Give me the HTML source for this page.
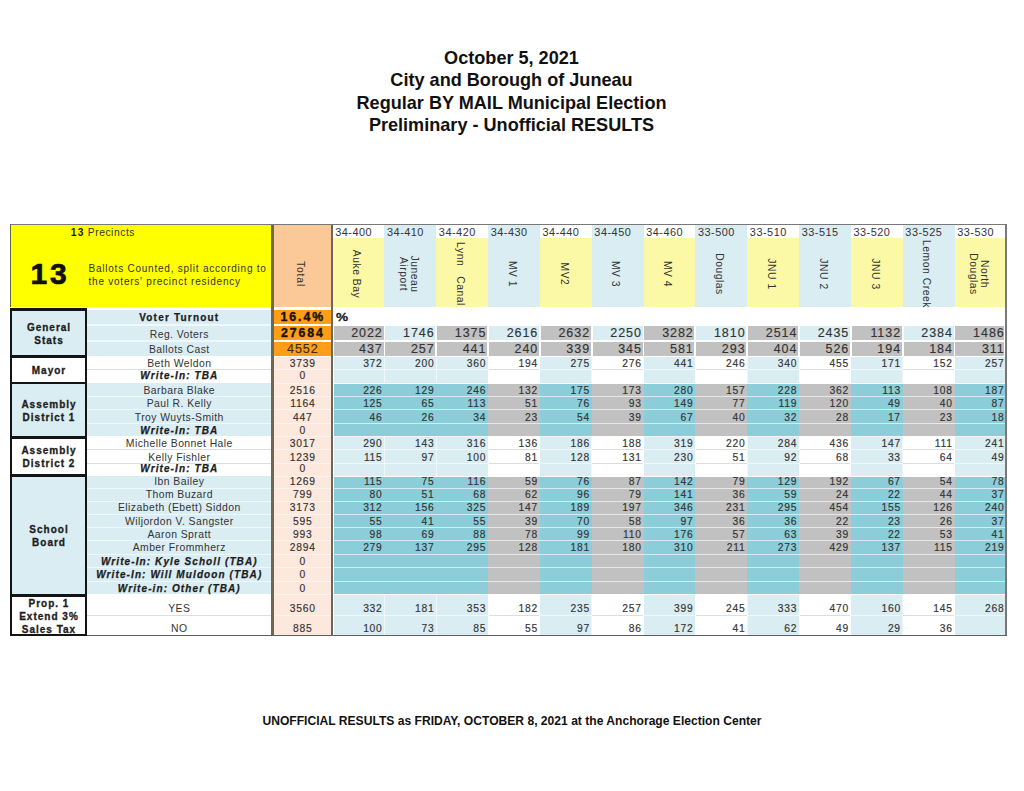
<!DOCTYPE html>
<html><head><meta charset="utf-8"><style>
html,body{margin:0;padding:0;background:#fff;width:1024px;height:791px;overflow:hidden;}
body{position:relative;font-family:"Liberation Sans",sans-serif;color:#333333;}
div{position:absolute;box-sizing:border-box;}
.title{left:0;width:1023px;text-align:center;font-weight:bold;font-size:18.1px;line-height:22.5px;color:#111;}
.foot{left:0;width:1024px;text-align:center;font-weight:bold;font-size:12.1px;color:#111;}
.cat{display:flex;align-items:center;justify-content:center;text-align:center;font-weight:bold;font-size:10px;letter-spacing:1.0px;line-height:13px;color:#1c1c1c;padding-left:1px;padding-top:1.6px;-webkit-text-stroke:0.3px #1c1c1c;}
.t{display:flex;align-items:center;white-space:nowrap;font-size:10px;letter-spacing:0.6px;}
.nm{justify-content:center;font-size:10.4px;letter-spacing:0.44px;}
.nm.b{font-size:10px;font-weight:bold;color:#1c1c1c;letter-spacing:1.2px;-webkit-text-stroke:0.25px #1c1c1c;}
.nm.bi{font-size:10px;font-weight:bold;font-style:italic;color:#1c1c1c;letter-spacing:1.1px;-webkit-text-stroke:0.25px #1c1c1c;}
.tot{justify-content:center;}
.tot{font-size:10.3px;letter-spacing:0.75px;-webkit-text-stroke:0.15px #333;}
.tot.tb{font-weight:bold;font-size:12.3px;color:#1a1200;letter-spacing:1.9px;-webkit-text-stroke:0.4px #1a1200;}
.tot.t2{font-size:12.5px;letter-spacing:0.95px;color:#3a2a10;}
.val{justify-content:flex-end;}
.val{font-size:10.3px;letter-spacing:0.75px;-webkit-text-stroke:0.15px #333;}
.val.big{font-size:12.5px;letter-spacing:0.95px;}
.pct{font-weight:bold;font-size:11.2px;color:#1c1c1c;letter-spacing:0;-webkit-text-stroke:0.3px #1c1c1c;transform:scaleX(1.22);transform-origin:0 50%;}
.code{font-size:10.9px;letter-spacing:0.5px;}
.rot{width:80px;height:14px;text-align:center;transform:rotate(90deg);font-size:10.3px;line-height:11px;letter-spacing:0.55px;white-space:nowrap;display:flex;align-items:center;justify-content:center;}
</style></head><body>
<div class="title" style="top:46.8px;">October 5, 2021<br>City and Borough of Juneau<br>Regular BY MAIL Municipal Election<br>Preliminary - Unofficial RESULTS</div>
<div style="left:10.00px;top:224.30px;width:997.00px;height:1.00px;background:#787878;"></div><div style="left:10.00px;top:225.30px;width:261.00px;height:82.20px;background:#ffff00;"></div><div style="left:10.00px;top:224.30px;width:1.00px;height:83.20px;background:#66663a;"></div><div style="left:274.00px;top:225.30px;width:57.00px;height:82.20px;background:#fbc897;"></div><div style="left:333.00px;top:225.30px;width:51.43px;height:13.00px;background:#ffffff;"></div><div style="left:333.00px;top:238.30px;width:51.43px;height:69.20px;background:#fcf9a6;"></div><div style="left:384.43px;top:225.30px;width:51.83px;height:13.00px;background:#daedf3;"></div><div style="left:384.43px;top:238.30px;width:51.83px;height:69.20px;background:#daedf3;"></div><div style="left:436.26px;top:225.30px;width:51.83px;height:13.00px;background:#ffffff;"></div><div style="left:436.26px;top:238.30px;width:51.83px;height:69.20px;background:#fcf9a6;"></div><div style="left:488.09px;top:225.30px;width:51.83px;height:13.00px;background:#daedf3;"></div><div style="left:488.09px;top:238.30px;width:51.83px;height:69.20px;background:#daedf3;"></div><div style="left:539.92px;top:225.30px;width:51.83px;height:13.00px;background:#ffffff;"></div><div style="left:539.92px;top:238.30px;width:51.83px;height:69.20px;background:#fcf9a6;"></div><div style="left:591.75px;top:225.30px;width:51.83px;height:13.00px;background:#daedf3;"></div><div style="left:591.75px;top:238.30px;width:51.83px;height:69.20px;background:#daedf3;"></div><div style="left:643.58px;top:225.30px;width:51.83px;height:13.00px;background:#ffffff;"></div><div style="left:643.58px;top:238.30px;width:51.83px;height:69.20px;background:#fcf9a6;"></div><div style="left:695.41px;top:225.30px;width:51.83px;height:13.00px;background:#daedf3;"></div><div style="left:695.41px;top:238.30px;width:51.83px;height:69.20px;background:#daedf3;"></div><div style="left:747.24px;top:225.30px;width:51.83px;height:13.00px;background:#ffffff;"></div><div style="left:747.24px;top:238.30px;width:51.83px;height:69.20px;background:#fcf9a6;"></div><div style="left:799.07px;top:225.30px;width:51.83px;height:13.00px;background:#daedf3;"></div><div style="left:799.07px;top:238.30px;width:51.83px;height:69.20px;background:#daedf3;"></div><div style="left:850.90px;top:225.30px;width:51.83px;height:13.00px;background:#ffffff;"></div><div style="left:850.90px;top:238.30px;width:51.83px;height:69.20px;background:#fcf9a6;"></div><div style="left:902.73px;top:225.30px;width:51.83px;height:13.00px;background:#daedf3;"></div><div style="left:902.73px;top:238.30px;width:51.83px;height:69.20px;background:#daedf3;"></div><div style="left:954.56px;top:225.30px;width:50.64px;height:13.00px;background:#ffffff;"></div><div style="left:954.56px;top:238.30px;width:50.64px;height:69.20px;background:#fcf9a6;"></div><div style="left:87.00px;top:310.00px;width:184.00px;height:14.00px;background:#daedf3;"></div><div style="left:274.00px;top:310.00px;width:57.00px;height:14.00px;background:#fe9d18;"></div><div style="left:87.00px;top:324.00px;width:184.00px;height:16.00px;background:#daedf3;"></div><div style="left:87.00px;top:324.00px;width:184.00px;height:2.00px;background:rgba(255,255,255,0.62);"></div><div style="left:274.00px;top:326.00px;width:57.00px;height:14.00px;background:#fe9d18;"></div><div style="left:333.90px;top:326.00px;width:49.63px;height:14.00px;background:#c1c1c1;"></div><div style="left:385.33px;top:326.00px;width:50.03px;height:14.00px;background:#daedf3;"></div><div style="left:437.16px;top:326.00px;width:50.03px;height:14.00px;background:#c1c1c1;"></div><div style="left:488.99px;top:326.00px;width:50.03px;height:14.00px;background:#daedf3;"></div><div style="left:540.82px;top:326.00px;width:50.03px;height:14.00px;background:#c1c1c1;"></div><div style="left:592.65px;top:326.00px;width:50.03px;height:14.00px;background:#daedf3;"></div><div style="left:644.48px;top:326.00px;width:50.03px;height:14.00px;background:#c1c1c1;"></div><div style="left:696.31px;top:326.00px;width:50.03px;height:14.00px;background:#daedf3;"></div><div style="left:748.14px;top:326.00px;width:50.03px;height:14.00px;background:#c1c1c1;"></div><div style="left:799.97px;top:326.00px;width:50.03px;height:14.00px;background:#daedf3;"></div><div style="left:851.80px;top:326.00px;width:50.03px;height:14.00px;background:#c1c1c1;"></div><div style="left:903.63px;top:326.00px;width:50.03px;height:14.00px;background:#daedf3;"></div><div style="left:955.46px;top:326.00px;width:48.94px;height:14.00px;background:#c1c1c1;"></div><div style="left:87.00px;top:340.00px;width:184.00px;height:16.00px;background:#daedf3;"></div><div style="left:87.00px;top:340.00px;width:184.00px;height:2.00px;background:rgba(255,255,255,0.62);"></div><div style="left:274.00px;top:342.00px;width:57.00px;height:14.00px;background:#fe9d18;"></div><div style="left:333.90px;top:342.00px;width:49.63px;height:14.00px;background:#c1c1c1;"></div><div style="left:385.33px;top:342.00px;width:50.03px;height:14.00px;background:#c1c1c1;"></div><div style="left:437.16px;top:342.00px;width:50.03px;height:14.00px;background:#c1c1c1;"></div><div style="left:488.99px;top:342.00px;width:50.03px;height:14.00px;background:#c1c1c1;"></div><div style="left:540.82px;top:342.00px;width:50.03px;height:14.00px;background:#c1c1c1;"></div><div style="left:592.65px;top:342.00px;width:50.03px;height:14.00px;background:#c1c1c1;"></div><div style="left:644.48px;top:342.00px;width:50.03px;height:14.00px;background:#c1c1c1;"></div><div style="left:696.31px;top:342.00px;width:50.03px;height:14.00px;background:#c1c1c1;"></div><div style="left:748.14px;top:342.00px;width:50.03px;height:14.00px;background:#c1c1c1;"></div><div style="left:799.97px;top:342.00px;width:50.03px;height:14.00px;background:#c1c1c1;"></div><div style="left:851.80px;top:342.00px;width:50.03px;height:14.00px;background:#c1c1c1;"></div><div style="left:903.63px;top:342.00px;width:50.03px;height:14.00px;background:#c1c1c1;"></div><div style="left:955.46px;top:342.00px;width:48.94px;height:14.00px;background:#c1c1c1;"></div><div style="left:274.00px;top:357.00px;width:57.00px;height:12.00px;background:#fce8dc;"></div><div style="left:333.90px;top:356.00px;width:50.53px;height:13.00px;background:#daedf3;"></div><div style="left:384.43px;top:356.00px;width:51.83px;height:13.00px;background:#daedf3;"></div><div style="left:436.26px;top:356.00px;width:51.83px;height:13.00px;background:#daedf3;"></div><div style="left:539.92px;top:356.00px;width:51.83px;height:13.00px;background:#daedf3;"></div><div style="left:643.58px;top:356.00px;width:51.83px;height:13.00px;background:#daedf3;"></div><div style="left:747.24px;top:356.00px;width:51.83px;height:13.00px;background:#daedf3;"></div><div style="left:850.90px;top:356.00px;width:51.83px;height:13.00px;background:#daedf3;"></div><div style="left:954.56px;top:356.00px;width:50.04px;height:13.00px;background:#daedf3;"></div><div style="left:333.90px;top:356.00px;width:670.70px;height:1.00px;background:#ffffff;"></div><div style="left:383.93px;top:356.00px;width:1.00px;height:13.00px;background:rgba(255,255,255,0.55);"></div><div style="left:435.76px;top:356.00px;width:1.00px;height:13.00px;background:rgba(255,255,255,0.55);"></div><div style="left:487.59px;top:356.00px;width:1.00px;height:13.00px;background:rgba(255,255,255,0.55);"></div><div style="left:539.42px;top:356.00px;width:1.00px;height:13.00px;background:rgba(255,255,255,0.55);"></div><div style="left:591.25px;top:356.00px;width:1.00px;height:13.00px;background:rgba(255,255,255,0.55);"></div><div style="left:643.08px;top:356.00px;width:1.00px;height:13.00px;background:rgba(255,255,255,0.55);"></div><div style="left:694.91px;top:356.00px;width:1.00px;height:13.00px;background:rgba(255,255,255,0.55);"></div><div style="left:746.74px;top:356.00px;width:1.00px;height:13.00px;background:rgba(255,255,255,0.55);"></div><div style="left:798.57px;top:356.00px;width:1.00px;height:13.00px;background:rgba(255,255,255,0.55);"></div><div style="left:850.40px;top:356.00px;width:1.00px;height:13.00px;background:rgba(255,255,255,0.55);"></div><div style="left:902.23px;top:356.00px;width:1.00px;height:13.00px;background:rgba(255,255,255,0.55);"></div><div style="left:954.06px;top:356.00px;width:1.00px;height:13.00px;background:rgba(255,255,255,0.55);"></div><div style="left:274.00px;top:369.00px;width:57.00px;height:14.00px;background:#fce8dc;"></div><div style="left:274.00px;top:369.00px;width:57.00px;height:1.00px;background:rgba(255,255,255,0.45);"></div><div style="left:333.90px;top:369.00px;width:50.53px;height:14.00px;background:#daedf3;"></div><div style="left:384.43px;top:369.00px;width:51.83px;height:14.00px;background:#daedf3;"></div><div style="left:436.26px;top:369.00px;width:51.83px;height:14.00px;background:#daedf3;"></div><div style="left:539.92px;top:369.00px;width:51.83px;height:14.00px;background:#daedf3;"></div><div style="left:643.58px;top:369.00px;width:51.83px;height:14.00px;background:#daedf3;"></div><div style="left:747.24px;top:369.00px;width:51.83px;height:14.00px;background:#daedf3;"></div><div style="left:850.90px;top:369.00px;width:51.83px;height:14.00px;background:#daedf3;"></div><div style="left:954.56px;top:369.00px;width:50.04px;height:14.00px;background:#daedf3;"></div><div style="left:333.90px;top:369.00px;width:670.70px;height:1.00px;background:rgba(255,255,255,0.62);"></div><div style="left:383.93px;top:369.00px;width:1.00px;height:14.00px;background:rgba(255,255,255,0.55);"></div><div style="left:435.76px;top:369.00px;width:1.00px;height:14.00px;background:rgba(255,255,255,0.55);"></div><div style="left:487.59px;top:369.00px;width:1.00px;height:14.00px;background:rgba(255,255,255,0.55);"></div><div style="left:539.42px;top:369.00px;width:1.00px;height:14.00px;background:rgba(255,255,255,0.55);"></div><div style="left:591.25px;top:369.00px;width:1.00px;height:14.00px;background:rgba(255,255,255,0.55);"></div><div style="left:643.08px;top:369.00px;width:1.00px;height:14.00px;background:rgba(255,255,255,0.55);"></div><div style="left:694.91px;top:369.00px;width:1.00px;height:14.00px;background:rgba(255,255,255,0.55);"></div><div style="left:746.74px;top:369.00px;width:1.00px;height:14.00px;background:rgba(255,255,255,0.55);"></div><div style="left:798.57px;top:369.00px;width:1.00px;height:14.00px;background:rgba(255,255,255,0.55);"></div><div style="left:850.40px;top:369.00px;width:1.00px;height:14.00px;background:rgba(255,255,255,0.55);"></div><div style="left:902.23px;top:369.00px;width:1.00px;height:14.00px;background:rgba(255,255,255,0.55);"></div><div style="left:954.06px;top:369.00px;width:1.00px;height:14.00px;background:rgba(255,255,255,0.55);"></div><div style="left:87.00px;top:383.00px;width:184.00px;height:13.00px;background:#daedf3;"></div><div style="left:274.00px;top:383.00px;width:57.00px;height:13.00px;background:#fce8dc;"></div><div style="left:274.00px;top:383.00px;width:57.00px;height:1.00px;background:rgba(255,255,255,0.45);"></div><div style="left:333.90px;top:383.00px;width:50.53px;height:13.00px;background:#8bcdd9;"></div><div style="left:384.43px;top:383.00px;width:51.83px;height:13.00px;background:#8bcdd9;"></div><div style="left:436.26px;top:383.00px;width:51.83px;height:13.00px;background:#8bcdd9;"></div><div style="left:488.09px;top:383.00px;width:51.83px;height:13.00px;background:#c1c1c1;"></div><div style="left:539.92px;top:383.00px;width:51.83px;height:13.00px;background:#8bcdd9;"></div><div style="left:591.75px;top:383.00px;width:51.83px;height:13.00px;background:#c1c1c1;"></div><div style="left:643.58px;top:383.00px;width:51.83px;height:13.00px;background:#8bcdd9;"></div><div style="left:695.41px;top:383.00px;width:51.83px;height:13.00px;background:#c1c1c1;"></div><div style="left:747.24px;top:383.00px;width:51.83px;height:13.00px;background:#8bcdd9;"></div><div style="left:799.07px;top:383.00px;width:51.83px;height:13.00px;background:#c1c1c1;"></div><div style="left:850.90px;top:383.00px;width:51.83px;height:13.00px;background:#8bcdd9;"></div><div style="left:902.73px;top:383.00px;width:51.83px;height:13.00px;background:#c1c1c1;"></div><div style="left:954.56px;top:383.00px;width:50.04px;height:13.00px;background:#8bcdd9;"></div><div style="left:333.90px;top:383.00px;width:670.70px;height:1.00px;background:#ffffff;"></div><div style="left:87.00px;top:396.00px;width:184.00px;height:13.00px;background:#daedf3;"></div><div style="left:87.00px;top:396.00px;width:184.00px;height:1.00px;background:rgba(255,255,255,0.62);"></div><div style="left:274.00px;top:396.00px;width:57.00px;height:13.00px;background:#fce8dc;"></div><div style="left:274.00px;top:396.00px;width:57.00px;height:1.00px;background:rgba(255,255,255,0.45);"></div><div style="left:333.90px;top:396.00px;width:50.53px;height:13.00px;background:#8bcdd9;"></div><div style="left:384.43px;top:396.00px;width:51.83px;height:13.00px;background:#8bcdd9;"></div><div style="left:436.26px;top:396.00px;width:51.83px;height:13.00px;background:#8bcdd9;"></div><div style="left:488.09px;top:396.00px;width:51.83px;height:13.00px;background:#c1c1c1;"></div><div style="left:539.92px;top:396.00px;width:51.83px;height:13.00px;background:#8bcdd9;"></div><div style="left:591.75px;top:396.00px;width:51.83px;height:13.00px;background:#c1c1c1;"></div><div style="left:643.58px;top:396.00px;width:51.83px;height:13.00px;background:#8bcdd9;"></div><div style="left:695.41px;top:396.00px;width:51.83px;height:13.00px;background:#c1c1c1;"></div><div style="left:747.24px;top:396.00px;width:51.83px;height:13.00px;background:#8bcdd9;"></div><div style="left:799.07px;top:396.00px;width:51.83px;height:13.00px;background:#c1c1c1;"></div><div style="left:850.90px;top:396.00px;width:51.83px;height:13.00px;background:#8bcdd9;"></div><div style="left:902.73px;top:396.00px;width:51.83px;height:13.00px;background:#c1c1c1;"></div><div style="left:954.56px;top:396.00px;width:50.04px;height:13.00px;background:#8bcdd9;"></div><div style="left:333.90px;top:396.00px;width:670.70px;height:1.00px;background:rgba(255,255,255,0.62);"></div><div style="left:87.00px;top:409.00px;width:184.00px;height:14.00px;background:#daedf3;"></div><div style="left:87.00px;top:409.00px;width:184.00px;height:1.00px;background:rgba(255,255,255,0.62);"></div><div style="left:274.00px;top:409.00px;width:57.00px;height:14.00px;background:#fce8dc;"></div><div style="left:274.00px;top:409.00px;width:57.00px;height:1.00px;background:rgba(255,255,255,0.45);"></div><div style="left:333.90px;top:409.00px;width:50.53px;height:14.00px;background:#8bcdd9;"></div><div style="left:384.43px;top:409.00px;width:51.83px;height:14.00px;background:#8bcdd9;"></div><div style="left:436.26px;top:409.00px;width:51.83px;height:14.00px;background:#8bcdd9;"></div><div style="left:488.09px;top:409.00px;width:51.83px;height:14.00px;background:#c1c1c1;"></div><div style="left:539.92px;top:409.00px;width:51.83px;height:14.00px;background:#8bcdd9;"></div><div style="left:591.75px;top:409.00px;width:51.83px;height:14.00px;background:#c1c1c1;"></div><div style="left:643.58px;top:409.00px;width:51.83px;height:14.00px;background:#8bcdd9;"></div><div style="left:695.41px;top:409.00px;width:51.83px;height:14.00px;background:#c1c1c1;"></div><div style="left:747.24px;top:409.00px;width:51.83px;height:14.00px;background:#8bcdd9;"></div><div style="left:799.07px;top:409.00px;width:51.83px;height:14.00px;background:#c1c1c1;"></div><div style="left:850.90px;top:409.00px;width:51.83px;height:14.00px;background:#8bcdd9;"></div><div style="left:902.73px;top:409.00px;width:51.83px;height:14.00px;background:#c1c1c1;"></div><div style="left:954.56px;top:409.00px;width:50.04px;height:14.00px;background:#8bcdd9;"></div><div style="left:333.90px;top:409.00px;width:670.70px;height:1.00px;background:rgba(255,255,255,0.62);"></div><div style="left:87.00px;top:423.00px;width:184.00px;height:13.00px;background:#daedf3;"></div><div style="left:87.00px;top:423.00px;width:184.00px;height:1.00px;background:rgba(255,255,255,0.62);"></div><div style="left:274.00px;top:423.00px;width:57.00px;height:13.00px;background:#fce8dc;"></div><div style="left:274.00px;top:423.00px;width:57.00px;height:1.00px;background:rgba(255,255,255,0.45);"></div><div style="left:333.90px;top:423.00px;width:50.53px;height:13.00px;background:#8bcdd9;"></div><div style="left:384.43px;top:423.00px;width:51.83px;height:13.00px;background:#8bcdd9;"></div><div style="left:436.26px;top:423.00px;width:51.83px;height:13.00px;background:#8bcdd9;"></div><div style="left:488.09px;top:423.00px;width:51.83px;height:13.00px;background:#c1c1c1;"></div><div style="left:539.92px;top:423.00px;width:51.83px;height:13.00px;background:#8bcdd9;"></div><div style="left:591.75px;top:423.00px;width:51.83px;height:13.00px;background:#c1c1c1;"></div><div style="left:643.58px;top:423.00px;width:51.83px;height:13.00px;background:#8bcdd9;"></div><div style="left:695.41px;top:423.00px;width:51.83px;height:13.00px;background:#c1c1c1;"></div><div style="left:747.24px;top:423.00px;width:51.83px;height:13.00px;background:#8bcdd9;"></div><div style="left:799.07px;top:423.00px;width:51.83px;height:13.00px;background:#c1c1c1;"></div><div style="left:850.90px;top:423.00px;width:51.83px;height:13.00px;background:#8bcdd9;"></div><div style="left:902.73px;top:423.00px;width:51.83px;height:13.00px;background:#c1c1c1;"></div><div style="left:954.56px;top:423.00px;width:50.04px;height:13.00px;background:#8bcdd9;"></div><div style="left:333.90px;top:423.00px;width:670.70px;height:1.00px;background:rgba(255,255,255,0.62);"></div><div style="left:274.00px;top:436.00px;width:57.00px;height:13.00px;background:#fce8dc;"></div><div style="left:274.00px;top:436.00px;width:57.00px;height:1.00px;background:rgba(255,255,255,0.45);"></div><div style="left:333.90px;top:436.00px;width:50.53px;height:13.00px;background:#daedf3;"></div><div style="left:384.43px;top:436.00px;width:51.83px;height:13.00px;background:#daedf3;"></div><div style="left:436.26px;top:436.00px;width:51.83px;height:13.00px;background:#daedf3;"></div><div style="left:539.92px;top:436.00px;width:51.83px;height:13.00px;background:#daedf3;"></div><div style="left:643.58px;top:436.00px;width:51.83px;height:13.00px;background:#daedf3;"></div><div style="left:747.24px;top:436.00px;width:51.83px;height:13.00px;background:#daedf3;"></div><div style="left:850.90px;top:436.00px;width:51.83px;height:13.00px;background:#daedf3;"></div><div style="left:954.56px;top:436.00px;width:50.04px;height:13.00px;background:#daedf3;"></div><div style="left:333.90px;top:436.00px;width:670.70px;height:1.00px;background:rgba(255,255,255,0.62);"></div><div style="left:383.93px;top:436.00px;width:1.00px;height:13.00px;background:rgba(255,255,255,0.55);"></div><div style="left:435.76px;top:436.00px;width:1.00px;height:13.00px;background:rgba(255,255,255,0.55);"></div><div style="left:487.59px;top:436.00px;width:1.00px;height:13.00px;background:rgba(255,255,255,0.55);"></div><div style="left:539.42px;top:436.00px;width:1.00px;height:13.00px;background:rgba(255,255,255,0.55);"></div><div style="left:591.25px;top:436.00px;width:1.00px;height:13.00px;background:rgba(255,255,255,0.55);"></div><div style="left:643.08px;top:436.00px;width:1.00px;height:13.00px;background:rgba(255,255,255,0.55);"></div><div style="left:694.91px;top:436.00px;width:1.00px;height:13.00px;background:rgba(255,255,255,0.55);"></div><div style="left:746.74px;top:436.00px;width:1.00px;height:13.00px;background:rgba(255,255,255,0.55);"></div><div style="left:798.57px;top:436.00px;width:1.00px;height:13.00px;background:rgba(255,255,255,0.55);"></div><div style="left:850.40px;top:436.00px;width:1.00px;height:13.00px;background:rgba(255,255,255,0.55);"></div><div style="left:902.23px;top:436.00px;width:1.00px;height:13.00px;background:rgba(255,255,255,0.55);"></div><div style="left:954.06px;top:436.00px;width:1.00px;height:13.00px;background:rgba(255,255,255,0.55);"></div><div style="left:274.00px;top:449.00px;width:57.00px;height:14.00px;background:#fce8dc;"></div><div style="left:274.00px;top:449.00px;width:57.00px;height:1.00px;background:rgba(255,255,255,0.45);"></div><div style="left:333.90px;top:449.00px;width:50.53px;height:14.00px;background:#daedf3;"></div><div style="left:384.43px;top:449.00px;width:51.83px;height:14.00px;background:#daedf3;"></div><div style="left:436.26px;top:449.00px;width:51.83px;height:14.00px;background:#daedf3;"></div><div style="left:539.92px;top:449.00px;width:51.83px;height:14.00px;background:#daedf3;"></div><div style="left:643.58px;top:449.00px;width:51.83px;height:14.00px;background:#daedf3;"></div><div style="left:747.24px;top:449.00px;width:51.83px;height:14.00px;background:#daedf3;"></div><div style="left:850.90px;top:449.00px;width:51.83px;height:14.00px;background:#daedf3;"></div><div style="left:954.56px;top:449.00px;width:50.04px;height:14.00px;background:#daedf3;"></div><div style="left:333.90px;top:449.00px;width:670.70px;height:1.00px;background:rgba(255,255,255,0.62);"></div><div style="left:383.93px;top:449.00px;width:1.00px;height:14.00px;background:rgba(255,255,255,0.55);"></div><div style="left:435.76px;top:449.00px;width:1.00px;height:14.00px;background:rgba(255,255,255,0.55);"></div><div style="left:487.59px;top:449.00px;width:1.00px;height:14.00px;background:rgba(255,255,255,0.55);"></div><div style="left:539.42px;top:449.00px;width:1.00px;height:14.00px;background:rgba(255,255,255,0.55);"></div><div style="left:591.25px;top:449.00px;width:1.00px;height:14.00px;background:rgba(255,255,255,0.55);"></div><div style="left:643.08px;top:449.00px;width:1.00px;height:14.00px;background:rgba(255,255,255,0.55);"></div><div style="left:694.91px;top:449.00px;width:1.00px;height:14.00px;background:rgba(255,255,255,0.55);"></div><div style="left:746.74px;top:449.00px;width:1.00px;height:14.00px;background:rgba(255,255,255,0.55);"></div><div style="left:798.57px;top:449.00px;width:1.00px;height:14.00px;background:rgba(255,255,255,0.55);"></div><div style="left:850.40px;top:449.00px;width:1.00px;height:14.00px;background:rgba(255,255,255,0.55);"></div><div style="left:902.23px;top:449.00px;width:1.00px;height:14.00px;background:rgba(255,255,255,0.55);"></div><div style="left:954.06px;top:449.00px;width:1.00px;height:14.00px;background:rgba(255,255,255,0.55);"></div><div style="left:274.00px;top:463.00px;width:57.00px;height:13.00px;background:#fce8dc;"></div><div style="left:274.00px;top:463.00px;width:57.00px;height:1.00px;background:rgba(255,255,255,0.45);"></div><div style="left:333.90px;top:463.00px;width:50.53px;height:13.00px;background:#daedf3;"></div><div style="left:384.43px;top:463.00px;width:51.83px;height:13.00px;background:#daedf3;"></div><div style="left:436.26px;top:463.00px;width:51.83px;height:13.00px;background:#daedf3;"></div><div style="left:539.92px;top:463.00px;width:51.83px;height:13.00px;background:#daedf3;"></div><div style="left:643.58px;top:463.00px;width:51.83px;height:13.00px;background:#daedf3;"></div><div style="left:747.24px;top:463.00px;width:51.83px;height:13.00px;background:#daedf3;"></div><div style="left:850.90px;top:463.00px;width:51.83px;height:13.00px;background:#daedf3;"></div><div style="left:954.56px;top:463.00px;width:50.04px;height:13.00px;background:#daedf3;"></div><div style="left:333.90px;top:463.00px;width:670.70px;height:1.00px;background:rgba(255,255,255,0.62);"></div><div style="left:383.93px;top:463.00px;width:1.00px;height:13.00px;background:rgba(255,255,255,0.55);"></div><div style="left:435.76px;top:463.00px;width:1.00px;height:13.00px;background:rgba(255,255,255,0.55);"></div><div style="left:487.59px;top:463.00px;width:1.00px;height:13.00px;background:rgba(255,255,255,0.55);"></div><div style="left:539.42px;top:463.00px;width:1.00px;height:13.00px;background:rgba(255,255,255,0.55);"></div><div style="left:591.25px;top:463.00px;width:1.00px;height:13.00px;background:rgba(255,255,255,0.55);"></div><div style="left:643.08px;top:463.00px;width:1.00px;height:13.00px;background:rgba(255,255,255,0.55);"></div><div style="left:694.91px;top:463.00px;width:1.00px;height:13.00px;background:rgba(255,255,255,0.55);"></div><div style="left:746.74px;top:463.00px;width:1.00px;height:13.00px;background:rgba(255,255,255,0.55);"></div><div style="left:798.57px;top:463.00px;width:1.00px;height:13.00px;background:rgba(255,255,255,0.55);"></div><div style="left:850.40px;top:463.00px;width:1.00px;height:13.00px;background:rgba(255,255,255,0.55);"></div><div style="left:902.23px;top:463.00px;width:1.00px;height:13.00px;background:rgba(255,255,255,0.55);"></div><div style="left:954.06px;top:463.00px;width:1.00px;height:13.00px;background:rgba(255,255,255,0.55);"></div><div style="left:87.00px;top:476.00px;width:184.00px;height:12.00px;background:#daedf3;"></div><div style="left:274.00px;top:476.00px;width:57.00px;height:12.00px;background:#fce8dc;"></div><div style="left:274.00px;top:476.00px;width:57.00px;height:1.00px;background:rgba(255,255,255,0.45);"></div><div style="left:333.90px;top:476.00px;width:50.53px;height:12.00px;background:#8bcdd9;"></div><div style="left:384.43px;top:476.00px;width:51.83px;height:12.00px;background:#8bcdd9;"></div><div style="left:436.26px;top:476.00px;width:51.83px;height:12.00px;background:#8bcdd9;"></div><div style="left:488.09px;top:476.00px;width:51.83px;height:12.00px;background:#c1c1c1;"></div><div style="left:539.92px;top:476.00px;width:51.83px;height:12.00px;background:#8bcdd9;"></div><div style="left:591.75px;top:476.00px;width:51.83px;height:12.00px;background:#c1c1c1;"></div><div style="left:643.58px;top:476.00px;width:51.83px;height:12.00px;background:#8bcdd9;"></div><div style="left:695.41px;top:476.00px;width:51.83px;height:12.00px;background:#c1c1c1;"></div><div style="left:747.24px;top:476.00px;width:51.83px;height:12.00px;background:#8bcdd9;"></div><div style="left:799.07px;top:476.00px;width:51.83px;height:12.00px;background:#c1c1c1;"></div><div style="left:850.90px;top:476.00px;width:51.83px;height:12.00px;background:#8bcdd9;"></div><div style="left:902.73px;top:476.00px;width:51.83px;height:12.00px;background:#c1c1c1;"></div><div style="left:954.56px;top:476.00px;width:50.04px;height:12.00px;background:#8bcdd9;"></div><div style="left:333.90px;top:476.00px;width:670.70px;height:1.00px;background:#ffffff;"></div><div style="left:87.00px;top:488.00px;width:184.00px;height:13.00px;background:#daedf3;"></div><div style="left:87.00px;top:488.00px;width:184.00px;height:1.00px;background:rgba(255,255,255,0.62);"></div><div style="left:274.00px;top:488.00px;width:57.00px;height:13.00px;background:#fce8dc;"></div><div style="left:274.00px;top:488.00px;width:57.00px;height:1.00px;background:rgba(255,255,255,0.45);"></div><div style="left:333.90px;top:488.00px;width:50.53px;height:13.00px;background:#8bcdd9;"></div><div style="left:384.43px;top:488.00px;width:51.83px;height:13.00px;background:#8bcdd9;"></div><div style="left:436.26px;top:488.00px;width:51.83px;height:13.00px;background:#8bcdd9;"></div><div style="left:488.09px;top:488.00px;width:51.83px;height:13.00px;background:#c1c1c1;"></div><div style="left:539.92px;top:488.00px;width:51.83px;height:13.00px;background:#8bcdd9;"></div><div style="left:591.75px;top:488.00px;width:51.83px;height:13.00px;background:#c1c1c1;"></div><div style="left:643.58px;top:488.00px;width:51.83px;height:13.00px;background:#8bcdd9;"></div><div style="left:695.41px;top:488.00px;width:51.83px;height:13.00px;background:#c1c1c1;"></div><div style="left:747.24px;top:488.00px;width:51.83px;height:13.00px;background:#8bcdd9;"></div><div style="left:799.07px;top:488.00px;width:51.83px;height:13.00px;background:#c1c1c1;"></div><div style="left:850.90px;top:488.00px;width:51.83px;height:13.00px;background:#8bcdd9;"></div><div style="left:902.73px;top:488.00px;width:51.83px;height:13.00px;background:#c1c1c1;"></div><div style="left:954.56px;top:488.00px;width:50.04px;height:13.00px;background:#8bcdd9;"></div><div style="left:333.90px;top:488.00px;width:670.70px;height:1.00px;background:rgba(255,255,255,0.62);"></div><div style="left:87.00px;top:501.00px;width:184.00px;height:13.00px;background:#daedf3;"></div><div style="left:87.00px;top:501.00px;width:184.00px;height:1.00px;background:rgba(255,255,255,0.62);"></div><div style="left:274.00px;top:501.00px;width:57.00px;height:13.00px;background:#fce8dc;"></div><div style="left:274.00px;top:501.00px;width:57.00px;height:1.00px;background:rgba(255,255,255,0.45);"></div><div style="left:333.90px;top:501.00px;width:50.53px;height:13.00px;background:#8bcdd9;"></div><div style="left:384.43px;top:501.00px;width:51.83px;height:13.00px;background:#8bcdd9;"></div><div style="left:436.26px;top:501.00px;width:51.83px;height:13.00px;background:#8bcdd9;"></div><div style="left:488.09px;top:501.00px;width:51.83px;height:13.00px;background:#c1c1c1;"></div><div style="left:539.92px;top:501.00px;width:51.83px;height:13.00px;background:#8bcdd9;"></div><div style="left:591.75px;top:501.00px;width:51.83px;height:13.00px;background:#c1c1c1;"></div><div style="left:643.58px;top:501.00px;width:51.83px;height:13.00px;background:#8bcdd9;"></div><div style="left:695.41px;top:501.00px;width:51.83px;height:13.00px;background:#c1c1c1;"></div><div style="left:747.24px;top:501.00px;width:51.83px;height:13.00px;background:#8bcdd9;"></div><div style="left:799.07px;top:501.00px;width:51.83px;height:13.00px;background:#c1c1c1;"></div><div style="left:850.90px;top:501.00px;width:51.83px;height:13.00px;background:#8bcdd9;"></div><div style="left:902.73px;top:501.00px;width:51.83px;height:13.00px;background:#c1c1c1;"></div><div style="left:954.56px;top:501.00px;width:50.04px;height:13.00px;background:#8bcdd9;"></div><div style="left:333.90px;top:501.00px;width:670.70px;height:1.00px;background:rgba(255,255,255,0.62);"></div><div style="left:87.00px;top:514.00px;width:184.00px;height:13.00px;background:#daedf3;"></div><div style="left:87.00px;top:514.00px;width:184.00px;height:1.00px;background:rgba(255,255,255,0.62);"></div><div style="left:274.00px;top:514.00px;width:57.00px;height:13.00px;background:#fce8dc;"></div><div style="left:274.00px;top:514.00px;width:57.00px;height:1.00px;background:rgba(255,255,255,0.45);"></div><div style="left:333.90px;top:514.00px;width:50.53px;height:13.00px;background:#8bcdd9;"></div><div style="left:384.43px;top:514.00px;width:51.83px;height:13.00px;background:#8bcdd9;"></div><div style="left:436.26px;top:514.00px;width:51.83px;height:13.00px;background:#8bcdd9;"></div><div style="left:488.09px;top:514.00px;width:51.83px;height:13.00px;background:#c1c1c1;"></div><div style="left:539.92px;top:514.00px;width:51.83px;height:13.00px;background:#8bcdd9;"></div><div style="left:591.75px;top:514.00px;width:51.83px;height:13.00px;background:#c1c1c1;"></div><div style="left:643.58px;top:514.00px;width:51.83px;height:13.00px;background:#8bcdd9;"></div><div style="left:695.41px;top:514.00px;width:51.83px;height:13.00px;background:#c1c1c1;"></div><div style="left:747.24px;top:514.00px;width:51.83px;height:13.00px;background:#8bcdd9;"></div><div style="left:799.07px;top:514.00px;width:51.83px;height:13.00px;background:#c1c1c1;"></div><div style="left:850.90px;top:514.00px;width:51.83px;height:13.00px;background:#8bcdd9;"></div><div style="left:902.73px;top:514.00px;width:51.83px;height:13.00px;background:#c1c1c1;"></div><div style="left:954.56px;top:514.00px;width:50.04px;height:13.00px;background:#8bcdd9;"></div><div style="left:333.90px;top:514.00px;width:670.70px;height:1.00px;background:rgba(255,255,255,0.62);"></div><div style="left:87.00px;top:527.00px;width:184.00px;height:13.00px;background:#daedf3;"></div><div style="left:87.00px;top:527.00px;width:184.00px;height:1.00px;background:rgba(255,255,255,0.62);"></div><div style="left:274.00px;top:527.00px;width:57.00px;height:13.00px;background:#fce8dc;"></div><div style="left:274.00px;top:527.00px;width:57.00px;height:1.00px;background:rgba(255,255,255,0.45);"></div><div style="left:333.90px;top:527.00px;width:50.53px;height:13.00px;background:#8bcdd9;"></div><div style="left:384.43px;top:527.00px;width:51.83px;height:13.00px;background:#8bcdd9;"></div><div style="left:436.26px;top:527.00px;width:51.83px;height:13.00px;background:#8bcdd9;"></div><div style="left:488.09px;top:527.00px;width:51.83px;height:13.00px;background:#c1c1c1;"></div><div style="left:539.92px;top:527.00px;width:51.83px;height:13.00px;background:#8bcdd9;"></div><div style="left:591.75px;top:527.00px;width:51.83px;height:13.00px;background:#c1c1c1;"></div><div style="left:643.58px;top:527.00px;width:51.83px;height:13.00px;background:#8bcdd9;"></div><div style="left:695.41px;top:527.00px;width:51.83px;height:13.00px;background:#c1c1c1;"></div><div style="left:747.24px;top:527.00px;width:51.83px;height:13.00px;background:#8bcdd9;"></div><div style="left:799.07px;top:527.00px;width:51.83px;height:13.00px;background:#c1c1c1;"></div><div style="left:850.90px;top:527.00px;width:51.83px;height:13.00px;background:#8bcdd9;"></div><div style="left:902.73px;top:527.00px;width:51.83px;height:13.00px;background:#c1c1c1;"></div><div style="left:954.56px;top:527.00px;width:50.04px;height:13.00px;background:#8bcdd9;"></div><div style="left:333.90px;top:527.00px;width:670.70px;height:1.00px;background:rgba(255,255,255,0.62);"></div><div style="left:87.00px;top:540.00px;width:184.00px;height:14.00px;background:#daedf3;"></div><div style="left:87.00px;top:540.00px;width:184.00px;height:1.00px;background:rgba(255,255,255,0.62);"></div><div style="left:274.00px;top:540.00px;width:57.00px;height:14.00px;background:#fce8dc;"></div><div style="left:274.00px;top:540.00px;width:57.00px;height:1.00px;background:rgba(255,255,255,0.45);"></div><div style="left:333.90px;top:540.00px;width:50.53px;height:14.00px;background:#8bcdd9;"></div><div style="left:384.43px;top:540.00px;width:51.83px;height:14.00px;background:#8bcdd9;"></div><div style="left:436.26px;top:540.00px;width:51.83px;height:14.00px;background:#8bcdd9;"></div><div style="left:488.09px;top:540.00px;width:51.83px;height:14.00px;background:#c1c1c1;"></div><div style="left:539.92px;top:540.00px;width:51.83px;height:14.00px;background:#8bcdd9;"></div><div style="left:591.75px;top:540.00px;width:51.83px;height:14.00px;background:#c1c1c1;"></div><div style="left:643.58px;top:540.00px;width:51.83px;height:14.00px;background:#8bcdd9;"></div><div style="left:695.41px;top:540.00px;width:51.83px;height:14.00px;background:#c1c1c1;"></div><div style="left:747.24px;top:540.00px;width:51.83px;height:14.00px;background:#8bcdd9;"></div><div style="left:799.07px;top:540.00px;width:51.83px;height:14.00px;background:#c1c1c1;"></div><div style="left:850.90px;top:540.00px;width:51.83px;height:14.00px;background:#8bcdd9;"></div><div style="left:902.73px;top:540.00px;width:51.83px;height:14.00px;background:#c1c1c1;"></div><div style="left:954.56px;top:540.00px;width:50.04px;height:14.00px;background:#8bcdd9;"></div><div style="left:333.90px;top:540.00px;width:670.70px;height:1.00px;background:rgba(255,255,255,0.62);"></div><div style="left:87.00px;top:554.00px;width:184.00px;height:13.00px;background:#daedf3;"></div><div style="left:87.00px;top:554.00px;width:184.00px;height:1.00px;background:rgba(255,255,255,0.62);"></div><div style="left:274.00px;top:554.00px;width:57.00px;height:13.00px;background:#fce8dc;"></div><div style="left:274.00px;top:554.00px;width:57.00px;height:1.00px;background:rgba(255,255,255,0.45);"></div><div style="left:333.90px;top:554.00px;width:50.53px;height:13.00px;background:#8bcdd9;"></div><div style="left:384.43px;top:554.00px;width:51.83px;height:13.00px;background:#8bcdd9;"></div><div style="left:436.26px;top:554.00px;width:51.83px;height:13.00px;background:#8bcdd9;"></div><div style="left:488.09px;top:554.00px;width:51.83px;height:13.00px;background:#c1c1c1;"></div><div style="left:539.92px;top:554.00px;width:51.83px;height:13.00px;background:#8bcdd9;"></div><div style="left:591.75px;top:554.00px;width:51.83px;height:13.00px;background:#c1c1c1;"></div><div style="left:643.58px;top:554.00px;width:51.83px;height:13.00px;background:#8bcdd9;"></div><div style="left:695.41px;top:554.00px;width:51.83px;height:13.00px;background:#c1c1c1;"></div><div style="left:747.24px;top:554.00px;width:51.83px;height:13.00px;background:#8bcdd9;"></div><div style="left:799.07px;top:554.00px;width:51.83px;height:13.00px;background:#c1c1c1;"></div><div style="left:850.90px;top:554.00px;width:51.83px;height:13.00px;background:#8bcdd9;"></div><div style="left:902.73px;top:554.00px;width:51.83px;height:13.00px;background:#c1c1c1;"></div><div style="left:954.56px;top:554.00px;width:50.04px;height:13.00px;background:#8bcdd9;"></div><div style="left:333.90px;top:554.00px;width:670.70px;height:1.00px;background:rgba(255,255,255,0.62);"></div><div style="left:87.00px;top:567.00px;width:184.00px;height:14.00px;background:#daedf3;"></div><div style="left:87.00px;top:567.00px;width:184.00px;height:1.00px;background:rgba(255,255,255,0.62);"></div><div style="left:274.00px;top:567.00px;width:57.00px;height:14.00px;background:#fce8dc;"></div><div style="left:274.00px;top:567.00px;width:57.00px;height:1.00px;background:rgba(255,255,255,0.45);"></div><div style="left:333.90px;top:567.00px;width:50.53px;height:14.00px;background:#8bcdd9;"></div><div style="left:384.43px;top:567.00px;width:51.83px;height:14.00px;background:#8bcdd9;"></div><div style="left:436.26px;top:567.00px;width:51.83px;height:14.00px;background:#8bcdd9;"></div><div style="left:488.09px;top:567.00px;width:51.83px;height:14.00px;background:#c1c1c1;"></div><div style="left:539.92px;top:567.00px;width:51.83px;height:14.00px;background:#8bcdd9;"></div><div style="left:591.75px;top:567.00px;width:51.83px;height:14.00px;background:#c1c1c1;"></div><div style="left:643.58px;top:567.00px;width:51.83px;height:14.00px;background:#8bcdd9;"></div><div style="left:695.41px;top:567.00px;width:51.83px;height:14.00px;background:#c1c1c1;"></div><div style="left:747.24px;top:567.00px;width:51.83px;height:14.00px;background:#8bcdd9;"></div><div style="left:799.07px;top:567.00px;width:51.83px;height:14.00px;background:#c1c1c1;"></div><div style="left:850.90px;top:567.00px;width:51.83px;height:14.00px;background:#8bcdd9;"></div><div style="left:902.73px;top:567.00px;width:51.83px;height:14.00px;background:#c1c1c1;"></div><div style="left:954.56px;top:567.00px;width:50.04px;height:14.00px;background:#8bcdd9;"></div><div style="left:333.90px;top:567.00px;width:670.70px;height:1.00px;background:rgba(255,255,255,0.62);"></div><div style="left:87.00px;top:581.00px;width:184.00px;height:13.00px;background:#daedf3;"></div><div style="left:87.00px;top:581.00px;width:184.00px;height:1.00px;background:rgba(255,255,255,0.62);"></div><div style="left:274.00px;top:581.00px;width:57.00px;height:13.00px;background:#fce8dc;"></div><div style="left:274.00px;top:581.00px;width:57.00px;height:1.00px;background:rgba(255,255,255,0.45);"></div><div style="left:333.90px;top:581.00px;width:50.53px;height:13.00px;background:#8bcdd9;"></div><div style="left:384.43px;top:581.00px;width:51.83px;height:13.00px;background:#8bcdd9;"></div><div style="left:436.26px;top:581.00px;width:51.83px;height:13.00px;background:#8bcdd9;"></div><div style="left:488.09px;top:581.00px;width:51.83px;height:13.00px;background:#c1c1c1;"></div><div style="left:539.92px;top:581.00px;width:51.83px;height:13.00px;background:#8bcdd9;"></div><div style="left:591.75px;top:581.00px;width:51.83px;height:13.00px;background:#c1c1c1;"></div><div style="left:643.58px;top:581.00px;width:51.83px;height:13.00px;background:#8bcdd9;"></div><div style="left:695.41px;top:581.00px;width:51.83px;height:13.00px;background:#c1c1c1;"></div><div style="left:747.24px;top:581.00px;width:51.83px;height:13.00px;background:#8bcdd9;"></div><div style="left:799.07px;top:581.00px;width:51.83px;height:13.00px;background:#c1c1c1;"></div><div style="left:850.90px;top:581.00px;width:51.83px;height:13.00px;background:#8bcdd9;"></div><div style="left:902.73px;top:581.00px;width:51.83px;height:13.00px;background:#c1c1c1;"></div><div style="left:954.56px;top:581.00px;width:50.04px;height:13.00px;background:#8bcdd9;"></div><div style="left:333.90px;top:581.00px;width:670.70px;height:1.00px;background:rgba(255,255,255,0.62);"></div><div style="left:274.00px;top:594.00px;width:57.00px;height:21.00px;background:#fce8dc;"></div><div style="left:274.00px;top:594.00px;width:57.00px;height:1.00px;background:rgba(255,255,255,0.45);"></div><div style="left:333.90px;top:594.00px;width:50.53px;height:21.00px;background:#daedf3;"></div><div style="left:384.43px;top:594.00px;width:51.83px;height:21.00px;background:#daedf3;"></div><div style="left:436.26px;top:594.00px;width:51.83px;height:21.00px;background:#daedf3;"></div><div style="left:539.92px;top:594.00px;width:51.83px;height:21.00px;background:#daedf3;"></div><div style="left:643.58px;top:594.00px;width:51.83px;height:21.00px;background:#daedf3;"></div><div style="left:747.24px;top:594.00px;width:51.83px;height:21.00px;background:#daedf3;"></div><div style="left:850.90px;top:594.00px;width:51.83px;height:21.00px;background:#daedf3;"></div><div style="left:954.56px;top:594.00px;width:50.04px;height:21.00px;background:#daedf3;"></div><div style="left:333.90px;top:594.00px;width:670.70px;height:1.00px;background:#ffffff;"></div><div style="left:383.93px;top:594.00px;width:1.00px;height:21.00px;background:rgba(255,255,255,0.55);"></div><div style="left:435.76px;top:594.00px;width:1.00px;height:21.00px;background:rgba(255,255,255,0.55);"></div><div style="left:487.59px;top:594.00px;width:1.00px;height:21.00px;background:rgba(255,255,255,0.55);"></div><div style="left:539.42px;top:594.00px;width:1.00px;height:21.00px;background:rgba(255,255,255,0.55);"></div><div style="left:591.25px;top:594.00px;width:1.00px;height:21.00px;background:rgba(255,255,255,0.55);"></div><div style="left:643.08px;top:594.00px;width:1.00px;height:21.00px;background:rgba(255,255,255,0.55);"></div><div style="left:694.91px;top:594.00px;width:1.00px;height:21.00px;background:rgba(255,255,255,0.55);"></div><div style="left:746.74px;top:594.00px;width:1.00px;height:21.00px;background:rgba(255,255,255,0.55);"></div><div style="left:798.57px;top:594.00px;width:1.00px;height:21.00px;background:rgba(255,255,255,0.55);"></div><div style="left:850.40px;top:594.00px;width:1.00px;height:21.00px;background:rgba(255,255,255,0.55);"></div><div style="left:902.23px;top:594.00px;width:1.00px;height:21.00px;background:rgba(255,255,255,0.55);"></div><div style="left:954.06px;top:594.00px;width:1.00px;height:21.00px;background:rgba(255,255,255,0.55);"></div><div style="left:274.00px;top:615.00px;width:57.00px;height:19.60px;background:#fce8dc;"></div><div style="left:274.00px;top:615.00px;width:57.00px;height:1.00px;background:rgba(255,255,255,0.45);"></div><div style="left:333.90px;top:615.00px;width:50.53px;height:19.60px;background:#daedf3;"></div><div style="left:384.43px;top:615.00px;width:51.83px;height:19.60px;background:#daedf3;"></div><div style="left:436.26px;top:615.00px;width:51.83px;height:19.60px;background:#daedf3;"></div><div style="left:539.92px;top:615.00px;width:51.83px;height:19.60px;background:#daedf3;"></div><div style="left:643.58px;top:615.00px;width:51.83px;height:19.60px;background:#daedf3;"></div><div style="left:747.24px;top:615.00px;width:51.83px;height:19.60px;background:#daedf3;"></div><div style="left:850.90px;top:615.00px;width:51.83px;height:19.60px;background:#daedf3;"></div><div style="left:954.56px;top:615.00px;width:50.04px;height:19.60px;background:#daedf3;"></div><div style="left:333.90px;top:615.00px;width:670.70px;height:1.00px;background:rgba(255,255,255,0.62);"></div><div style="left:383.93px;top:615.00px;width:1.00px;height:19.60px;background:rgba(255,255,255,0.55);"></div><div style="left:435.76px;top:615.00px;width:1.00px;height:19.60px;background:rgba(255,255,255,0.55);"></div><div style="left:487.59px;top:615.00px;width:1.00px;height:19.60px;background:rgba(255,255,255,0.55);"></div><div style="left:539.42px;top:615.00px;width:1.00px;height:19.60px;background:rgba(255,255,255,0.55);"></div><div style="left:591.25px;top:615.00px;width:1.00px;height:19.60px;background:rgba(255,255,255,0.55);"></div><div style="left:643.08px;top:615.00px;width:1.00px;height:19.60px;background:rgba(255,255,255,0.55);"></div><div style="left:694.91px;top:615.00px;width:1.00px;height:19.60px;background:rgba(255,255,255,0.55);"></div><div style="left:746.74px;top:615.00px;width:1.00px;height:19.60px;background:rgba(255,255,255,0.55);"></div><div style="left:798.57px;top:615.00px;width:1.00px;height:19.60px;background:rgba(255,255,255,0.55);"></div><div style="left:850.40px;top:615.00px;width:1.00px;height:19.60px;background:rgba(255,255,255,0.55);"></div><div style="left:902.23px;top:615.00px;width:1.00px;height:19.60px;background:rgba(255,255,255,0.55);"></div><div style="left:954.06px;top:615.00px;width:1.00px;height:19.60px;background:rgba(255,255,255,0.55);"></div><div style="left:87.00px;top:369.00px;width:184.00px;height:1.00px;background:#dddddd;"></div><div style="left:488.59px;top:369.00px;width:50.83px;height:1.00px;background:#dddddd;"></div><div style="left:592.25px;top:369.00px;width:50.83px;height:1.00px;background:#dddddd;"></div><div style="left:695.91px;top:369.00px;width:50.83px;height:1.00px;background:#dddddd;"></div><div style="left:799.57px;top:369.00px;width:50.83px;height:1.00px;background:#dddddd;"></div><div style="left:903.23px;top:369.00px;width:50.83px;height:1.00px;background:#dddddd;"></div><div style="left:87.00px;top:449.00px;width:184.00px;height:1.00px;background:#dddddd;"></div><div style="left:488.59px;top:449.00px;width:50.83px;height:1.00px;background:#dddddd;"></div><div style="left:592.25px;top:449.00px;width:50.83px;height:1.00px;background:#dddddd;"></div><div style="left:695.91px;top:449.00px;width:50.83px;height:1.00px;background:#dddddd;"></div><div style="left:799.57px;top:449.00px;width:50.83px;height:1.00px;background:#dddddd;"></div><div style="left:903.23px;top:449.00px;width:50.83px;height:1.00px;background:#dddddd;"></div><div style="left:87.00px;top:463.00px;width:184.00px;height:1.00px;background:#dddddd;"></div><div style="left:488.59px;top:463.00px;width:50.83px;height:1.00px;background:#dddddd;"></div><div style="left:592.25px;top:463.00px;width:50.83px;height:1.00px;background:#dddddd;"></div><div style="left:695.91px;top:463.00px;width:50.83px;height:1.00px;background:#dddddd;"></div><div style="left:799.57px;top:463.00px;width:50.83px;height:1.00px;background:#dddddd;"></div><div style="left:903.23px;top:463.00px;width:50.83px;height:1.00px;background:#dddddd;"></div><div style="left:87.00px;top:615.00px;width:184.00px;height:1.00px;background:#dddddd;"></div><div style="left:488.59px;top:615.00px;width:50.83px;height:1.00px;background:#dddddd;"></div><div style="left:592.25px;top:615.00px;width:50.83px;height:1.00px;background:#dddddd;"></div><div style="left:695.91px;top:615.00px;width:50.83px;height:1.00px;background:#dddddd;"></div><div style="left:799.57px;top:615.00px;width:50.83px;height:1.00px;background:#dddddd;"></div><div style="left:903.23px;top:615.00px;width:50.83px;height:1.00px;background:#dddddd;"></div><div style="left:271.00px;top:225.30px;width:3.00px;height:410.30px;background:#6d6757;"></div><div style="left:330.80px;top:225.30px;width:2.40px;height:410.30px;background:#6d6757;"></div><div style="left:1005.20px;top:224.30px;width:1.80px;height:411.80px;background:#787878;"></div><div style="left:10.00px;top:634.60px;width:997.00px;height:1.60px;background:#5e5e5e;"></div><div style="left:10.00px;top:308.00px;width:77.00px;height:50.00px;background:#daedf3;"></div><div class="cat" style="left:10.00px;top:310.50px;width:77.00px;height:44.90px;"><span>General<br>Stats</span></div><div style="left:10.00px;top:355.40px;width:77.00px;height:29.00px;background:#ffffff;"></div><div class="cat" style="left:10.00px;top:358.00px;width:77.00px;height:23.90px;"><span>Mayor</span></div><div style="left:10.00px;top:381.90px;width:77.00px;height:57.10px;background:#daedf3;"></div><div class="cat" style="left:10.00px;top:384.40px;width:77.00px;height:52.00px;"><span>Assembly<br>District 1</span></div><div style="left:10.00px;top:436.40px;width:77.00px;height:40.50px;background:#ffffff;"></div><div class="cat" style="left:10.00px;top:439.00px;width:77.00px;height:35.20px;"><span>Assembly<br>District 2</span></div><div style="left:10.00px;top:474.20px;width:77.00px;height:122.90px;background:#daedf3;"></div><div class="cat" style="left:10.00px;top:476.90px;width:77.00px;height:117.50px;"><span>School<br>Board</span></div><div style="left:10.00px;top:594.40px;width:77.00px;height:41.60px;background:#ffffff;"></div><div class="cat" style="left:10.00px;top:597.10px;width:77.00px;height:36.70px;"><span>Prop. 1<br>Extend 3%<br>Sales Tax</span></div><div style="left:10.00px;top:308.00px;width:77.40px;height:2.50px;background:#141414;"></div><div style="left:10.00px;top:355.40px;width:77.40px;height:2.60px;background:#141414;"></div><div style="left:10.00px;top:381.90px;width:77.40px;height:2.50px;background:#141414;"></div><div style="left:10.00px;top:436.40px;width:77.40px;height:2.60px;background:#141414;"></div><div style="left:10.00px;top:474.20px;width:77.40px;height:2.70px;background:#141414;"></div><div style="left:10.00px;top:594.40px;width:77.40px;height:2.70px;background:#141414;"></div><div style="left:10.00px;top:633.80px;width:77.40px;height:2.20px;background:#141414;"></div><div style="left:10.00px;top:308.00px;width:2.00px;height:328.00px;background:#141414;"></div><div style="left:84.80px;top:308.00px;width:2.60px;height:328.00px;background:#141414;"></div><div class="t nm b" style="left:87.00px;top:312.00px;width:184.60px;height:12px;line-height:12px;">Voter Turnout</div><div class="t tot tb" style="left:274.00px;top:310.70px;width:57.60px;height:12px;line-height:12px;">16.4%</div><div class="t pct" style="left:335.50px;top:310.90px;width:48.93px;height:12px;line-height:12px;">%</div><div class="t nm " style="left:87.00px;top:328.60px;width:184.60px;height:12px;line-height:12px;">Reg. Voters</div><div class="t tot tb" style="left:274.00px;top:327.30px;width:57.60px;height:12px;line-height:12px;">27684</div><div class="t val big" style="left:332.60px;top:327.30px;width:50.18px;height:12px;line-height:12px;">2022</div><div class="t val big" style="left:384.43px;top:327.30px;width:50.18px;height:12px;line-height:12px;">1746</div><div class="t val big" style="left:436.26px;top:327.30px;width:50.18px;height:12px;line-height:12px;">1375</div><div class="t val big" style="left:488.09px;top:327.30px;width:50.18px;height:12px;line-height:12px;">2616</div><div class="t val big" style="left:539.92px;top:327.30px;width:50.18px;height:12px;line-height:12px;">2632</div><div class="t val big" style="left:591.75px;top:327.30px;width:50.18px;height:12px;line-height:12px;">2250</div><div class="t val big" style="left:643.58px;top:327.30px;width:50.18px;height:12px;line-height:12px;">3282</div><div class="t val big" style="left:695.41px;top:327.30px;width:50.18px;height:12px;line-height:12px;">1810</div><div class="t val big" style="left:747.24px;top:327.30px;width:50.18px;height:12px;line-height:12px;">2514</div><div class="t val big" style="left:799.07px;top:327.30px;width:50.18px;height:12px;line-height:12px;">2435</div><div class="t val big" style="left:850.90px;top:327.30px;width:50.18px;height:12px;line-height:12px;">1132</div><div class="t val big" style="left:902.73px;top:327.30px;width:50.18px;height:12px;line-height:12px;">2384</div><div class="t val big" style="left:954.56px;top:327.30px;width:50.18px;height:12px;line-height:12px;">1486</div><div class="t nm " style="left:87.00px;top:343.80px;width:184.60px;height:12px;line-height:12px;">Ballots Cast</div><div class="t tot t2" style="left:274.00px;top:342.50px;width:57.60px;height:12px;line-height:12px;">4552</div><div class="t val big" style="left:332.60px;top:342.50px;width:50.18px;height:12px;line-height:12px;">437</div><div class="t val big" style="left:384.43px;top:342.50px;width:50.18px;height:12px;line-height:12px;">257</div><div class="t val big" style="left:436.26px;top:342.50px;width:50.18px;height:12px;line-height:12px;">441</div><div class="t val big" style="left:488.09px;top:342.50px;width:50.18px;height:12px;line-height:12px;">240</div><div class="t val big" style="left:539.92px;top:342.50px;width:50.18px;height:12px;line-height:12px;">339</div><div class="t val big" style="left:591.75px;top:342.50px;width:50.18px;height:12px;line-height:12px;">345</div><div class="t val big" style="left:643.58px;top:342.50px;width:50.18px;height:12px;line-height:12px;">581</div><div class="t val big" style="left:695.41px;top:342.50px;width:50.18px;height:12px;line-height:12px;">293</div><div class="t val big" style="left:747.24px;top:342.50px;width:50.18px;height:12px;line-height:12px;">404</div><div class="t val big" style="left:799.07px;top:342.50px;width:50.18px;height:12px;line-height:12px;">526</div><div class="t val big" style="left:850.90px;top:342.50px;width:50.18px;height:12px;line-height:12px;">194</div><div class="t val big" style="left:902.73px;top:342.50px;width:50.18px;height:12px;line-height:12px;">184</div><div class="t val big" style="left:954.56px;top:342.50px;width:50.18px;height:12px;line-height:12px;">311</div><div class="t nm " style="left:87.00px;top:358.00px;width:184.60px;height:12px;line-height:12px;">Beth Weldon</div><div class="t tot " style="left:274.00px;top:358.00px;width:57.60px;height:12px;line-height:12px;">3739</div><div class="t val " style="left:332.60px;top:358.00px;width:49.98px;height:12px;line-height:12px;">372</div><div class="t val " style="left:384.43px;top:358.00px;width:49.98px;height:12px;line-height:12px;">200</div><div class="t val " style="left:436.26px;top:358.00px;width:49.98px;height:12px;line-height:12px;">360</div><div class="t val " style="left:488.09px;top:358.00px;width:49.98px;height:12px;line-height:12px;">194</div><div class="t val " style="left:539.92px;top:358.00px;width:49.98px;height:12px;line-height:12px;">275</div><div class="t val " style="left:591.75px;top:358.00px;width:49.98px;height:12px;line-height:12px;">276</div><div class="t val " style="left:643.58px;top:358.00px;width:49.98px;height:12px;line-height:12px;">441</div><div class="t val " style="left:695.41px;top:358.00px;width:49.98px;height:12px;line-height:12px;">246</div><div class="t val " style="left:747.24px;top:358.00px;width:49.98px;height:12px;line-height:12px;">340</div><div class="t val " style="left:799.07px;top:358.00px;width:49.98px;height:12px;line-height:12px;">455</div><div class="t val " style="left:850.90px;top:358.00px;width:49.98px;height:12px;line-height:12px;">171</div><div class="t val " style="left:902.73px;top:358.00px;width:49.98px;height:12px;line-height:12px;">152</div><div class="t val " style="left:954.56px;top:358.00px;width:49.98px;height:12px;line-height:12px;">257</div><div class="t nm bi" style="left:87.00px;top:369.90px;width:184.60px;height:12px;line-height:12px;">Write-In: TBA</div><div class="t tot " style="left:274.00px;top:369.90px;width:57.60px;height:12px;line-height:12px;">0</div><div class="t nm " style="left:87.00px;top:384.70px;width:184.60px;height:12px;line-height:12px;">Barbara Blake</div><div class="t tot " style="left:274.00px;top:384.70px;width:57.60px;height:12px;line-height:12px;">2516</div><div class="t val " style="left:332.60px;top:384.70px;width:49.98px;height:12px;line-height:12px;">226</div><div class="t val " style="left:384.43px;top:384.70px;width:49.98px;height:12px;line-height:12px;">129</div><div class="t val " style="left:436.26px;top:384.70px;width:49.98px;height:12px;line-height:12px;">246</div><div class="t val " style="left:488.09px;top:384.70px;width:49.98px;height:12px;line-height:12px;">132</div><div class="t val " style="left:539.92px;top:384.70px;width:49.98px;height:12px;line-height:12px;">175</div><div class="t val " style="left:591.75px;top:384.70px;width:49.98px;height:12px;line-height:12px;">173</div><div class="t val " style="left:643.58px;top:384.70px;width:49.98px;height:12px;line-height:12px;">280</div><div class="t val " style="left:695.41px;top:384.70px;width:49.98px;height:12px;line-height:12px;">157</div><div class="t val " style="left:747.24px;top:384.70px;width:49.98px;height:12px;line-height:12px;">228</div><div class="t val " style="left:799.07px;top:384.70px;width:49.98px;height:12px;line-height:12px;">362</div><div class="t val " style="left:850.90px;top:384.70px;width:49.98px;height:12px;line-height:12px;">113</div><div class="t val " style="left:902.73px;top:384.70px;width:49.98px;height:12px;line-height:12px;">108</div><div class="t val " style="left:954.56px;top:384.70px;width:49.98px;height:12px;line-height:12px;">187</div><div class="t nm " style="left:87.00px;top:398.20px;width:184.60px;height:12px;line-height:12px;">Paul R. Kelly</div><div class="t tot " style="left:274.00px;top:398.20px;width:57.60px;height:12px;line-height:12px;">1164</div><div class="t val " style="left:332.60px;top:398.20px;width:49.98px;height:12px;line-height:12px;">125</div><div class="t val " style="left:384.43px;top:398.20px;width:49.98px;height:12px;line-height:12px;">65</div><div class="t val " style="left:436.26px;top:398.20px;width:49.98px;height:12px;line-height:12px;">113</div><div class="t val " style="left:488.09px;top:398.20px;width:49.98px;height:12px;line-height:12px;">51</div><div class="t val " style="left:539.92px;top:398.20px;width:49.98px;height:12px;line-height:12px;">76</div><div class="t val " style="left:591.75px;top:398.20px;width:49.98px;height:12px;line-height:12px;">93</div><div class="t val " style="left:643.58px;top:398.20px;width:49.98px;height:12px;line-height:12px;">149</div><div class="t val " style="left:695.41px;top:398.20px;width:49.98px;height:12px;line-height:12px;">77</div><div class="t val " style="left:747.24px;top:398.20px;width:49.98px;height:12px;line-height:12px;">119</div><div class="t val " style="left:799.07px;top:398.20px;width:49.98px;height:12px;line-height:12px;">120</div><div class="t val " style="left:850.90px;top:398.20px;width:49.98px;height:12px;line-height:12px;">49</div><div class="t val " style="left:902.73px;top:398.20px;width:49.98px;height:12px;line-height:12px;">40</div><div class="t val " style="left:954.56px;top:398.20px;width:49.98px;height:12px;line-height:12px;">87</div><div class="t nm " style="left:87.00px;top:411.60px;width:184.60px;height:12px;line-height:12px;">Troy Wuyts-Smith</div><div class="t tot " style="left:274.00px;top:411.60px;width:57.60px;height:12px;line-height:12px;">447</div><div class="t val " style="left:332.60px;top:411.60px;width:49.98px;height:12px;line-height:12px;">46</div><div class="t val " style="left:384.43px;top:411.60px;width:49.98px;height:12px;line-height:12px;">26</div><div class="t val " style="left:436.26px;top:411.60px;width:49.98px;height:12px;line-height:12px;">34</div><div class="t val " style="left:488.09px;top:411.60px;width:49.98px;height:12px;line-height:12px;">23</div><div class="t val " style="left:539.92px;top:411.60px;width:49.98px;height:12px;line-height:12px;">54</div><div class="t val " style="left:591.75px;top:411.60px;width:49.98px;height:12px;line-height:12px;">39</div><div class="t val " style="left:643.58px;top:411.60px;width:49.98px;height:12px;line-height:12px;">67</div><div class="t val " style="left:695.41px;top:411.60px;width:49.98px;height:12px;line-height:12px;">40</div><div class="t val " style="left:747.24px;top:411.60px;width:49.98px;height:12px;line-height:12px;">32</div><div class="t val " style="left:799.07px;top:411.60px;width:49.98px;height:12px;line-height:12px;">28</div><div class="t val " style="left:850.90px;top:411.60px;width:49.98px;height:12px;line-height:12px;">17</div><div class="t val " style="left:902.73px;top:411.60px;width:49.98px;height:12px;line-height:12px;">23</div><div class="t val " style="left:954.56px;top:411.60px;width:49.98px;height:12px;line-height:12px;">18</div><div class="t nm bi" style="left:87.00px;top:424.90px;width:184.60px;height:12px;line-height:12px;">Write-In: TBA</div><div class="t tot " style="left:274.00px;top:424.90px;width:57.60px;height:12px;line-height:12px;">0</div><div class="t nm " style="left:87.00px;top:438.40px;width:184.60px;height:12px;line-height:12px;">Michelle Bonnet Hale</div><div class="t tot " style="left:274.00px;top:438.40px;width:57.60px;height:12px;line-height:12px;">3017</div><div class="t val " style="left:332.60px;top:438.40px;width:49.98px;height:12px;line-height:12px;">290</div><div class="t val " style="left:384.43px;top:438.40px;width:49.98px;height:12px;line-height:12px;">143</div><div class="t val " style="left:436.26px;top:438.40px;width:49.98px;height:12px;line-height:12px;">316</div><div class="t val " style="left:488.09px;top:438.40px;width:49.98px;height:12px;line-height:12px;">136</div><div class="t val " style="left:539.92px;top:438.40px;width:49.98px;height:12px;line-height:12px;">186</div><div class="t val " style="left:591.75px;top:438.40px;width:49.98px;height:12px;line-height:12px;">188</div><div class="t val " style="left:643.58px;top:438.40px;width:49.98px;height:12px;line-height:12px;">319</div><div class="t val " style="left:695.41px;top:438.40px;width:49.98px;height:12px;line-height:12px;">220</div><div class="t val " style="left:747.24px;top:438.40px;width:49.98px;height:12px;line-height:12px;">284</div><div class="t val " style="left:799.07px;top:438.40px;width:49.98px;height:12px;line-height:12px;">436</div><div class="t val " style="left:850.90px;top:438.40px;width:49.98px;height:12px;line-height:12px;">147</div><div class="t val " style="left:902.73px;top:438.40px;width:49.98px;height:12px;line-height:12px;">111</div><div class="t val " style="left:954.56px;top:438.40px;width:49.98px;height:12px;line-height:12px;">241</div><div class="t nm " style="left:87.00px;top:451.60px;width:184.60px;height:12px;line-height:12px;">Kelly Fishler</div><div class="t tot " style="left:274.00px;top:451.60px;width:57.60px;height:12px;line-height:12px;">1239</div><div class="t val " style="left:332.60px;top:451.60px;width:49.98px;height:12px;line-height:12px;">115</div><div class="t val " style="left:384.43px;top:451.60px;width:49.98px;height:12px;line-height:12px;">97</div><div class="t val " style="left:436.26px;top:451.60px;width:49.98px;height:12px;line-height:12px;">100</div><div class="t val " style="left:488.09px;top:451.60px;width:49.98px;height:12px;line-height:12px;">81</div><div class="t val " style="left:539.92px;top:451.60px;width:49.98px;height:12px;line-height:12px;">128</div><div class="t val " style="left:591.75px;top:451.60px;width:49.98px;height:12px;line-height:12px;">131</div><div class="t val " style="left:643.58px;top:451.60px;width:49.98px;height:12px;line-height:12px;">230</div><div class="t val " style="left:695.41px;top:451.60px;width:49.98px;height:12px;line-height:12px;">51</div><div class="t val " style="left:747.24px;top:451.60px;width:49.98px;height:12px;line-height:12px;">92</div><div class="t val " style="left:799.07px;top:451.60px;width:49.98px;height:12px;line-height:12px;">68</div><div class="t val " style="left:850.90px;top:451.60px;width:49.98px;height:12px;line-height:12px;">33</div><div class="t val " style="left:902.73px;top:451.60px;width:49.98px;height:12px;line-height:12px;">64</div><div class="t val " style="left:954.56px;top:451.60px;width:49.98px;height:12px;line-height:12px;">49</div><div class="t nm bi" style="left:87.00px;top:463.30px;width:184.60px;height:12px;line-height:12px;">Write-In: TBA</div><div class="t tot " style="left:274.00px;top:463.30px;width:57.60px;height:12px;line-height:12px;">0</div><div class="t nm " style="left:87.00px;top:476.20px;width:184.60px;height:12px;line-height:12px;">Ibn Bailey</div><div class="t tot " style="left:274.00px;top:476.20px;width:57.60px;height:12px;line-height:12px;">1269</div><div class="t val " style="left:332.60px;top:476.20px;width:49.98px;height:12px;line-height:12px;">115</div><div class="t val " style="left:384.43px;top:476.20px;width:49.98px;height:12px;line-height:12px;">75</div><div class="t val " style="left:436.26px;top:476.20px;width:49.98px;height:12px;line-height:12px;">116</div><div class="t val " style="left:488.09px;top:476.20px;width:49.98px;height:12px;line-height:12px;">59</div><div class="t val " style="left:539.92px;top:476.20px;width:49.98px;height:12px;line-height:12px;">76</div><div class="t val " style="left:591.75px;top:476.20px;width:49.98px;height:12px;line-height:12px;">87</div><div class="t val " style="left:643.58px;top:476.20px;width:49.98px;height:12px;line-height:12px;">142</div><div class="t val " style="left:695.41px;top:476.20px;width:49.98px;height:12px;line-height:12px;">79</div><div class="t val " style="left:747.24px;top:476.20px;width:49.98px;height:12px;line-height:12px;">129</div><div class="t val " style="left:799.07px;top:476.20px;width:49.98px;height:12px;line-height:12px;">192</div><div class="t val " style="left:850.90px;top:476.20px;width:49.98px;height:12px;line-height:12px;">67</div><div class="t val " style="left:902.73px;top:476.20px;width:49.98px;height:12px;line-height:12px;">54</div><div class="t val " style="left:954.56px;top:476.20px;width:49.98px;height:12px;line-height:12px;">78</div><div class="t nm " style="left:87.00px;top:489.40px;width:184.60px;height:12px;line-height:12px;">Thom Buzard</div><div class="t tot " style="left:274.00px;top:489.40px;width:57.60px;height:12px;line-height:12px;">799</div><div class="t val " style="left:332.60px;top:489.40px;width:49.98px;height:12px;line-height:12px;">80</div><div class="t val " style="left:384.43px;top:489.40px;width:49.98px;height:12px;line-height:12px;">51</div><div class="t val " style="left:436.26px;top:489.40px;width:49.98px;height:12px;line-height:12px;">68</div><div class="t val " style="left:488.09px;top:489.40px;width:49.98px;height:12px;line-height:12px;">62</div><div class="t val " style="left:539.92px;top:489.40px;width:49.98px;height:12px;line-height:12px;">96</div><div class="t val " style="left:591.75px;top:489.40px;width:49.98px;height:12px;line-height:12px;">79</div><div class="t val " style="left:643.58px;top:489.40px;width:49.98px;height:12px;line-height:12px;">141</div><div class="t val " style="left:695.41px;top:489.40px;width:49.98px;height:12px;line-height:12px;">36</div><div class="t val " style="left:747.24px;top:489.40px;width:49.98px;height:12px;line-height:12px;">59</div><div class="t val " style="left:799.07px;top:489.40px;width:49.98px;height:12px;line-height:12px;">24</div><div class="t val " style="left:850.90px;top:489.40px;width:49.98px;height:12px;line-height:12px;">22</div><div class="t val " style="left:902.73px;top:489.40px;width:49.98px;height:12px;line-height:12px;">44</div><div class="t val " style="left:954.56px;top:489.40px;width:49.98px;height:12px;line-height:12px;">37</div><div class="t nm " style="left:87.00px;top:502.40px;width:184.60px;height:12px;line-height:12px;">Elizabeth (Ebett) Siddon</div><div class="t tot " style="left:274.00px;top:502.40px;width:57.60px;height:12px;line-height:12px;">3173</div><div class="t val " style="left:332.60px;top:502.40px;width:49.98px;height:12px;line-height:12px;">312</div><div class="t val " style="left:384.43px;top:502.40px;width:49.98px;height:12px;line-height:12px;">156</div><div class="t val " style="left:436.26px;top:502.40px;width:49.98px;height:12px;line-height:12px;">325</div><div class="t val " style="left:488.09px;top:502.40px;width:49.98px;height:12px;line-height:12px;">147</div><div class="t val " style="left:539.92px;top:502.40px;width:49.98px;height:12px;line-height:12px;">189</div><div class="t val " style="left:591.75px;top:502.40px;width:49.98px;height:12px;line-height:12px;">197</div><div class="t val " style="left:643.58px;top:502.40px;width:49.98px;height:12px;line-height:12px;">346</div><div class="t val " style="left:695.41px;top:502.40px;width:49.98px;height:12px;line-height:12px;">231</div><div class="t val " style="left:747.24px;top:502.40px;width:49.98px;height:12px;line-height:12px;">295</div><div class="t val " style="left:799.07px;top:502.40px;width:49.98px;height:12px;line-height:12px;">454</div><div class="t val " style="left:850.90px;top:502.40px;width:49.98px;height:12px;line-height:12px;">155</div><div class="t val " style="left:902.73px;top:502.40px;width:49.98px;height:12px;line-height:12px;">126</div><div class="t val " style="left:954.56px;top:502.40px;width:49.98px;height:12px;line-height:12px;">240</div><div class="t nm " style="left:87.00px;top:515.90px;width:184.60px;height:12px;line-height:12px;">Wiljordon V. Sangster</div><div class="t tot " style="left:274.00px;top:515.90px;width:57.60px;height:12px;line-height:12px;">595</div><div class="t val " style="left:332.60px;top:515.90px;width:49.98px;height:12px;line-height:12px;">55</div><div class="t val " style="left:384.43px;top:515.90px;width:49.98px;height:12px;line-height:12px;">41</div><div class="t val " style="left:436.26px;top:515.90px;width:49.98px;height:12px;line-height:12px;">55</div><div class="t val " style="left:488.09px;top:515.90px;width:49.98px;height:12px;line-height:12px;">39</div><div class="t val " style="left:539.92px;top:515.90px;width:49.98px;height:12px;line-height:12px;">70</div><div class="t val " style="left:591.75px;top:515.90px;width:49.98px;height:12px;line-height:12px;">58</div><div class="t val " style="left:643.58px;top:515.90px;width:49.98px;height:12px;line-height:12px;">97</div><div class="t val " style="left:695.41px;top:515.90px;width:49.98px;height:12px;line-height:12px;">36</div><div class="t val " style="left:747.24px;top:515.90px;width:49.98px;height:12px;line-height:12px;">36</div><div class="t val " style="left:799.07px;top:515.90px;width:49.98px;height:12px;line-height:12px;">22</div><div class="t val " style="left:850.90px;top:515.90px;width:49.98px;height:12px;line-height:12px;">23</div><div class="t val " style="left:902.73px;top:515.90px;width:49.98px;height:12px;line-height:12px;">26</div><div class="t val " style="left:954.56px;top:515.90px;width:49.98px;height:12px;line-height:12px;">37</div><div class="t nm " style="left:87.00px;top:529.00px;width:184.60px;height:12px;line-height:12px;">Aaron Spratt</div><div class="t tot " style="left:274.00px;top:529.00px;width:57.60px;height:12px;line-height:12px;">993</div><div class="t val " style="left:332.60px;top:529.00px;width:49.98px;height:12px;line-height:12px;">98</div><div class="t val " style="left:384.43px;top:529.00px;width:49.98px;height:12px;line-height:12px;">69</div><div class="t val " style="left:436.26px;top:529.00px;width:49.98px;height:12px;line-height:12px;">88</div><div class="t val " style="left:488.09px;top:529.00px;width:49.98px;height:12px;line-height:12px;">78</div><div class="t val " style="left:539.92px;top:529.00px;width:49.98px;height:12px;line-height:12px;">99</div><div class="t val " style="left:591.75px;top:529.00px;width:49.98px;height:12px;line-height:12px;">110</div><div class="t val " style="left:643.58px;top:529.00px;width:49.98px;height:12px;line-height:12px;">176</div><div class="t val " style="left:695.41px;top:529.00px;width:49.98px;height:12px;line-height:12px;">57</div><div class="t val " style="left:747.24px;top:529.00px;width:49.98px;height:12px;line-height:12px;">63</div><div class="t val " style="left:799.07px;top:529.00px;width:49.98px;height:12px;line-height:12px;">39</div><div class="t val " style="left:850.90px;top:529.00px;width:49.98px;height:12px;line-height:12px;">22</div><div class="t val " style="left:902.73px;top:529.00px;width:49.98px;height:12px;line-height:12px;">53</div><div class="t val " style="left:954.56px;top:529.00px;width:49.98px;height:12px;line-height:12px;">41</div><div class="t nm " style="left:87.00px;top:542.30px;width:184.60px;height:12px;line-height:12px;">Amber Frommherz</div><div class="t tot " style="left:274.00px;top:542.30px;width:57.60px;height:12px;line-height:12px;">2894</div><div class="t val " style="left:332.60px;top:542.30px;width:49.98px;height:12px;line-height:12px;">279</div><div class="t val " style="left:384.43px;top:542.30px;width:49.98px;height:12px;line-height:12px;">137</div><div class="t val " style="left:436.26px;top:542.30px;width:49.98px;height:12px;line-height:12px;">295</div><div class="t val " style="left:488.09px;top:542.30px;width:49.98px;height:12px;line-height:12px;">128</div><div class="t val " style="left:539.92px;top:542.30px;width:49.98px;height:12px;line-height:12px;">181</div><div class="t val " style="left:591.75px;top:542.30px;width:49.98px;height:12px;line-height:12px;">180</div><div class="t val " style="left:643.58px;top:542.30px;width:49.98px;height:12px;line-height:12px;">310</div><div class="t val " style="left:695.41px;top:542.30px;width:49.98px;height:12px;line-height:12px;">211</div><div class="t val " style="left:747.24px;top:542.30px;width:49.98px;height:12px;line-height:12px;">273</div><div class="t val " style="left:799.07px;top:542.30px;width:49.98px;height:12px;line-height:12px;">429</div><div class="t val " style="left:850.90px;top:542.30px;width:49.98px;height:12px;line-height:12px;">137</div><div class="t val " style="left:902.73px;top:542.30px;width:49.98px;height:12px;line-height:12px;">115</div><div class="t val " style="left:954.56px;top:542.30px;width:49.98px;height:12px;line-height:12px;">219</div><div class="t nm bi" style="left:87.00px;top:556.00px;width:184.60px;height:12px;line-height:12px;">Write-In: Kyle Scholl (TBA)</div><div class="t tot " style="left:274.00px;top:556.00px;width:57.60px;height:12px;line-height:12px;">0</div><div class="t nm bi" style="left:87.00px;top:569.40px;width:184.60px;height:12px;line-height:12px;">Write-In: Will Muldoon (TBA)</div><div class="t tot " style="left:274.00px;top:569.40px;width:57.60px;height:12px;line-height:12px;">0</div><div class="t nm bi" style="left:87.00px;top:582.60px;width:184.60px;height:12px;line-height:12px;">Write-in: Other (TBA)</div><div class="t tot " style="left:274.00px;top:582.60px;width:57.60px;height:12px;line-height:12px;">0</div><div class="t nm " style="left:87.00px;top:603.30px;width:184.60px;height:12px;line-height:12px;">YES</div><div class="t tot " style="left:274.00px;top:603.30px;width:57.60px;height:12px;line-height:12px;">3560</div><div class="t val " style="left:332.60px;top:603.30px;width:49.98px;height:12px;line-height:12px;">332</div><div class="t val " style="left:384.43px;top:603.30px;width:49.98px;height:12px;line-height:12px;">181</div><div class="t val " style="left:436.26px;top:603.30px;width:49.98px;height:12px;line-height:12px;">353</div><div class="t val " style="left:488.09px;top:603.30px;width:49.98px;height:12px;line-height:12px;">182</div><div class="t val " style="left:539.92px;top:603.30px;width:49.98px;height:12px;line-height:12px;">235</div><div class="t val " style="left:591.75px;top:603.30px;width:49.98px;height:12px;line-height:12px;">257</div><div class="t val " style="left:643.58px;top:603.30px;width:49.98px;height:12px;line-height:12px;">399</div><div class="t val " style="left:695.41px;top:603.30px;width:49.98px;height:12px;line-height:12px;">245</div><div class="t val " style="left:747.24px;top:603.30px;width:49.98px;height:12px;line-height:12px;">333</div><div class="t val " style="left:799.07px;top:603.30px;width:49.98px;height:12px;line-height:12px;">470</div><div class="t val " style="left:850.90px;top:603.30px;width:49.98px;height:12px;line-height:12px;">160</div><div class="t val " style="left:902.73px;top:603.30px;width:49.98px;height:12px;line-height:12px;">145</div><div class="t val " style="left:954.56px;top:603.30px;width:49.98px;height:12px;line-height:12px;">268</div><div class="t nm " style="left:87.00px;top:622.50px;width:184.60px;height:12px;line-height:12px;">NO</div><div class="t tot " style="left:274.00px;top:622.50px;width:57.60px;height:12px;line-height:12px;">885</div><div class="t val " style="left:332.60px;top:622.50px;width:49.98px;height:12px;line-height:12px;">100</div><div class="t val " style="left:384.43px;top:622.50px;width:49.98px;height:12px;line-height:12px;">73</div><div class="t val " style="left:436.26px;top:622.50px;width:49.98px;height:12px;line-height:12px;">85</div><div class="t val " style="left:488.09px;top:622.50px;width:49.98px;height:12px;line-height:12px;">55</div><div class="t val " style="left:539.92px;top:622.50px;width:49.98px;height:12px;line-height:12px;">97</div><div class="t val " style="left:591.75px;top:622.50px;width:49.98px;height:12px;line-height:12px;">86</div><div class="t val " style="left:643.58px;top:622.50px;width:49.98px;height:12px;line-height:12px;">172</div><div class="t val " style="left:695.41px;top:622.50px;width:49.98px;height:12px;line-height:12px;">41</div><div class="t val " style="left:747.24px;top:622.50px;width:49.98px;height:12px;line-height:12px;">62</div><div class="t val " style="left:799.07px;top:622.50px;width:49.98px;height:12px;line-height:12px;">49</div><div class="t val " style="left:850.90px;top:622.50px;width:49.98px;height:12px;line-height:12px;">29</div><div class="t val " style="left:902.73px;top:622.50px;width:49.98px;height:12px;line-height:12px;">36</div><div class="t code" style="left:335.20px;top:225.90px;width:49.23px;height:12px;line-height:12px;">34-400</div><div class="rot" style="left:317.22px;top:267.00px;">Auke Bay</div><div class="t code" style="left:387.03px;top:225.90px;width:49.23px;height:12px;line-height:12px;">34-410</div><div class="rot" style="left:369.05px;top:267.00px;">Juneau<br>Airport</div><div class="t code" style="left:438.86px;top:225.90px;width:49.23px;height:12px;line-height:12px;">34-420</div><div class="rot" style="left:420.88px;top:267.00px;">Lynn<span style="display:inline-block;width:10.1px"></span>Canal</div><div class="t code" style="left:490.69px;top:225.90px;width:49.23px;height:12px;line-height:12px;">34-430</div><div class="rot" style="left:472.70px;top:267.00px;">MV 1</div><div class="t code" style="left:542.52px;top:225.90px;width:49.23px;height:12px;line-height:12px;">34-440</div><div class="rot" style="left:524.54px;top:267.00px;">MV2</div><div class="t code" style="left:594.35px;top:225.90px;width:49.23px;height:12px;line-height:12px;">34-450</div><div class="rot" style="left:576.37px;top:267.00px;">MV 3</div><div class="t code" style="left:646.18px;top:225.90px;width:49.23px;height:12px;line-height:12px;">34-460</div><div class="rot" style="left:628.20px;top:267.00px;">MV 4</div><div class="t code" style="left:698.01px;top:225.90px;width:49.23px;height:12px;line-height:12px;">33-500</div><div class="rot" style="left:680.03px;top:267.00px;">Douglas</div><div class="t code" style="left:749.84px;top:225.90px;width:49.23px;height:12px;line-height:12px;">33-510</div><div class="rot" style="left:731.86px;top:267.00px;">JNU 1</div><div class="t code" style="left:801.67px;top:225.90px;width:49.23px;height:12px;line-height:12px;">33-515</div><div class="rot" style="left:783.68px;top:267.00px;">JNU 2</div><div class="t code" style="left:853.50px;top:225.90px;width:49.23px;height:12px;line-height:12px;">33-520</div><div class="rot" style="left:835.51px;top:267.00px;">JNU 3</div><div class="t code" style="left:905.33px;top:225.90px;width:49.23px;height:12px;line-height:12px;">33-525</div><div class="rot" style="left:887.35px;top:267.00px;">Lemon Creek</div><div class="t code" style="left:957.16px;top:225.90px;width:49.23px;height:12px;line-height:12px;">33-530</div><div class="rot" style="left:939.18px;top:267.00px;">North<br>Douglas</div><div class="rot" style="left:261.30px;top:267.00px;font-size:10.3px;letter-spacing:0.9px;">Total</div>
<div style="left:70.8px;top:226.6px;font-size:10.3px;line-height:12px;white-space:nowrap;"><b style="letter-spacing:1.3px;color:#1c1c1c">13</b> <span style="letter-spacing:0.55px">Precincts</span></div>
<div style="left:30.6px;top:257.2px;font-weight:bold;font-size:30px;line-height:34px;color:#111;letter-spacing:2.6px;-webkit-text-stroke:0.7px #111;">13</div>
<div style="left:88.5px;top:262.4px;font-size:10px;line-height:13px;letter-spacing:0.77px;white-space:nowrap;">Ballots Counted, split according to<br>the voters' precinct residency</div>
<div class="foot" style="top:713.5px;">UNOFFICIAL RESULTS as FRIDAY, OCTOBER 8, 2021 at the Anchorage Election Center</div>
</body></html>
